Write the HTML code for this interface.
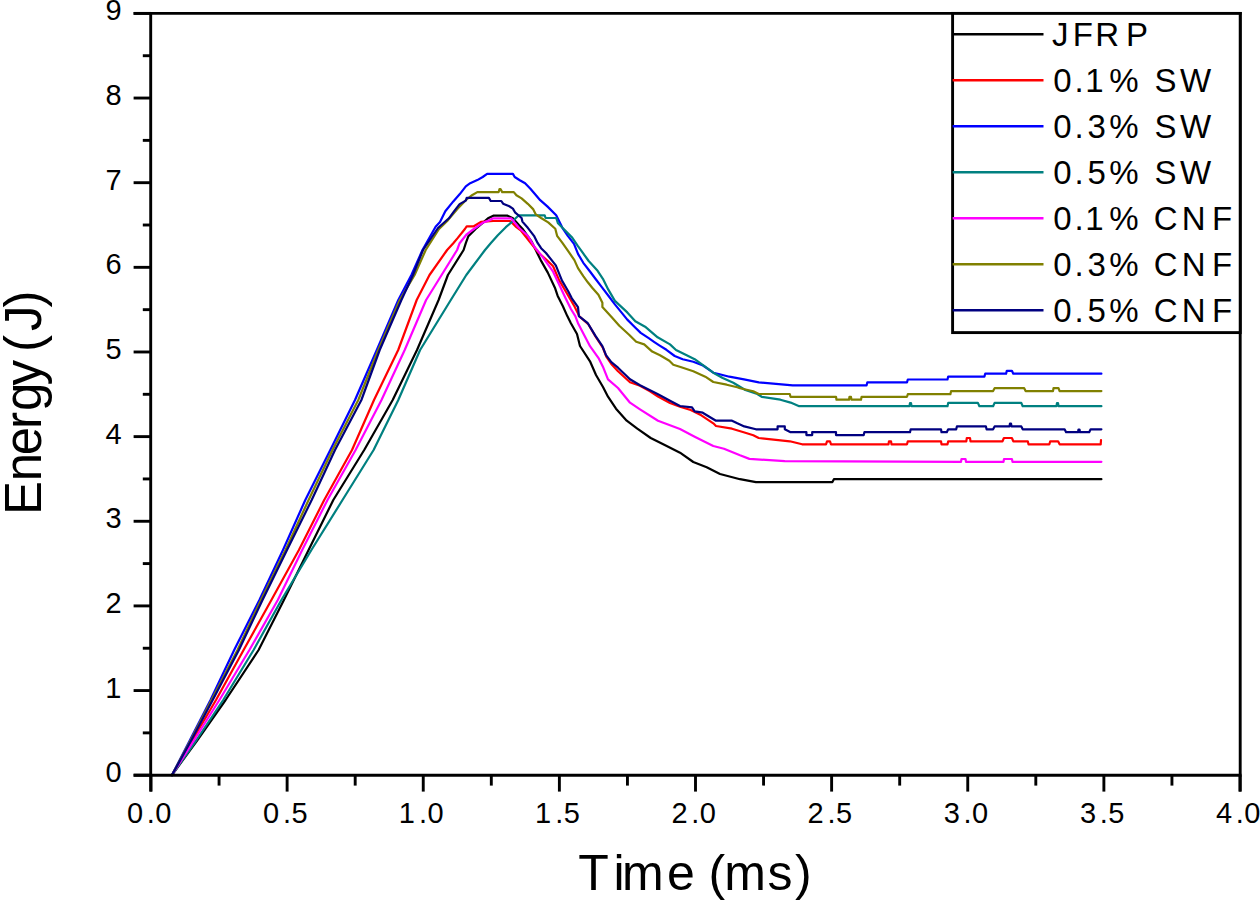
<!DOCTYPE html>
<html><head><meta charset="utf-8">
<style>
html,body{margin:0;padding:0;background:#fff;overflow:hidden;}
svg{display:block;}
text{font-family:"Liberation Sans",sans-serif;fill:#000;}
</style></head><body>
<svg width="1260" height="900" viewBox="0 0 1260 900">
<rect width="1260" height="900" fill="#fff"/>
<polyline points="172,775 197.5,740 225.6,700 258.6,650 283.9,600 308.6,550 333.3,500 364.2,450 392.7,400 417,350 438.6,300 447.9,275 463.6,250 465.8,243.2 468.4,236.1 475.6,229 488,218.3 493.3,215.7 507.6,215.7 512.9,218.3 518.9,225.1 522.4,228.7 531.3,241.1 534.9,248.2 540.7,260.1 547.8,272.6 554.9,287.7 557.6,295.7 562.9,306.3 567.3,316.1 570.9,323.2 577,334 580,346 590,361.3 596,375 603,387 608,396.7 616,408.7 626.7,420.7 637.3,428.7 650.7,438 666.7,446 680,452.7 693.3,462 706.7,467.3 720,474 740,479.2 755.9,482.1 832.4,482.1 833.9,479.2 1101.4,479.2" fill="none" stroke="#000000" stroke-width="2.2" stroke-linejoin="round" stroke-linecap="round"/>
<polyline points="172,775 192.5,740 216,700 243.6,650 271.4,600 298.9,550 324.2,500 352,450 374,400 398.2,350 416.7,300 429.5,275 447.1,250 453.3,243.2 457.8,237.9 464.9,229 466.7,226.3 473.8,226.3 480.9,221.9 493.3,221 510.2,221 516.4,227.2 520.7,230.4 530,242 538.9,253 547.8,261 553.1,266.3 559.3,280.6 562,285 574.4,306.3 579.5,316.5 588.5,324.5 595.8,337 603,348 606.5,357 611.3,364 618,371.3 630,382.3 640,385.7 650,391.3 658,396.5 670,403 680,406.7 690.7,410 701.3,415.3 713.3,423.3 716,426 732,428.7 745.3,432.7 753.3,435.3 758.7,438 789.8,441.3 802.1,444.3 826,444.3 827,441.3 830,441.3 831,444.3 888.5,444.3 889,441.3 891,441.3 891.5,444.3 907,444.3 907.8,441.3 941,441.3 941.5,444.3 947.5,444.3 948.2,441.3 966.3,441.3 966.8,438 970,438 970.5,441.3 1002.5,441.3 1003.9,438 1011.9,438 1013.3,441.3 1027.8,441.3 1028.5,444.3 1049.4,444.3 1050.2,441.3 1058.1,441.3 1059.6,444.3 1100.7,444.3 1101,440" fill="none" stroke="#FF0000" stroke-width="2.2" stroke-linejoin="round" stroke-linecap="round"/>
<polyline points="172,775 190,740 210.5,700 234.2,650 259.4,600 283,550 305.3,500 330.3,450 355,400 376.8,350 398.3,300 411.4,275 422.5,250 435.6,226.7 440,221.9 445.3,211.2 453.3,201.4 459.6,194.3 465.8,186.3 470.2,183.2 477.3,180.1 482.7,177 487.1,173.9 512.9,173.9 514.7,177 519.8,180.2 525.1,183.3 530.4,188.7 534.9,194 540.2,200.2 547.3,206.4 556.2,215.3 562.4,227.8 567.8,235.8 574,243.8 578,253.9 583.3,262.8 590,271.5 596,279.5 602,287.4 608.2,295.5 614.9,304.4 627.3,319.6 634.4,326.7 640.7,332.9 648.7,338.2 654,341.8 659.3,345.3 666.4,349.8 674.7,356 682.7,359.3 693.3,361.8 703,365.5 713.3,372.7 718.7,374 729.3,376.7 744,379.3 758.8,382.4 792.7,385.3 866.6,385.3 867.3,382.4 907,382.4 907.8,379.5 947.5,379.5 948.2,376.6 984.4,376.6 985.2,373.7 1006.1,373.7 1006.8,370.8 1011.9,370.8 1013.3,373.7 1101.4,373.7" fill="none" stroke="#0000FF" stroke-width="2.2" stroke-linejoin="round" stroke-linecap="round"/>
<polyline points="172,775 196.5,740 223.2,700 253.6,650 281.4,600 311.4,550 342.5,500 373.6,450 398.3,400 420.1,350 450.8,300 466.3,275 485,250 490.7,243.2 497.8,235.2 505.8,227.2 512,221.9 515.6,218.3 518.9,215.3 544.7,215.3 545.6,218 556.2,218 558,223.3 564.2,229.6 572.2,237.6 577.6,245.6 581.6,251.2 588.7,261 597.6,270.8 602.9,278.8 608.2,289.4 614.9,300.9 627.3,312.4 635.3,321.3 645.1,326.7 657.6,337.3 670,344.4 676,350 686.7,355.3 694.7,359.2 704,365.8 713.3,372.7 722.7,378 733.3,382.7 745.3,390 757.3,394 761.7,396.8 780.4,399.7 790.6,402.6 799.2,406.2 909.5,406.2 910,403 911,403 911.5,406.2 947.5,406.2 948.2,402.9 977.9,402.9 979.4,406.2 993.1,406.2 994.6,402.9 1021.3,402.9 1022.7,406.2 1056.5,406.2 1057,403 1058,403 1058.5,406.2 1101.4,406.2" fill="none" stroke="#008080" stroke-width="2.2" stroke-linejoin="round" stroke-linecap="round"/>
<polyline points="172,775 194.2,740 219.4,700 249.4,650 277.8,600 302.2,550 327.5,500 355.6,450 381.5,400 404.7,350 426.1,300 441.6,275 457.1,250 459.6,243.2 466.7,234.3 473.8,229 482.7,222.8 489.8,220.1 493.3,218.3 511.1,218.3 518.9,227.8 527.8,235.8 534.4,246.8 542.4,256.6 553.1,271.7 560.2,286.8 565.6,298.3 570.9,309 575.3,316.1 578,323.2 590,346.2 598.9,358.7 603.3,367.6 608,379.3 618,388 630,402.7 640,409.3 658,420.7 680,429 694.7,436.7 702.7,440.7 713.3,446 724,448.7 740,455.3 749.4,458.9 784.8,461.1 961,461.8 961.5,459 965.5,459 966,461.8 1003.5,461.8 1004,459 1011.9,459 1012.5,461.8 1101.4,461.8" fill="none" stroke="#FF00FF" stroke-width="2.2" stroke-linejoin="round" stroke-linecap="round"/>
<polyline points="172,775 190.7,740 211.5,700 237.5,650 261,600 285.5,550 308.6,500 332.5,450 358.3,400 378.3,350 399.8,300 414.6,275 425.7,250 439,229 448,220.1 457.8,208.6 466,200 472,195.2 477.3,192.1 498.7,192.1 499.5,189 500.5,189 502.2,192.1 513.8,192.1 516.4,195.2 521.6,198.4 527.8,203.8 533.1,209.1 535.8,214.4 541.1,218 548.2,222.4 555.3,228.7 557.1,235.8 562.4,242.9 568.2,251.2 574.4,260.1 578,268.1 583.3,276.1 587.8,282.3 592.2,287.7 598.4,294.8 602.4,302.8 602.4,307.1 612.2,317.8 619.3,325.8 629.1,334.7 636.2,341.8 644.2,344.4 652.2,351.6 660,355.3 669.3,360.7 673.3,364.7 681.3,367.3 693.3,371.3 705.3,376.7 713.3,382 726.7,384.7 737.3,387.3 740,388.2 753.3,391.3 758.8,394 789.8,394 790.5,396.8 836,396.8 836.5,399.7 849,399.7 849.5,396.8 851,396.8 851.4,399.7 861,399.7 861.6,396.8 907,396.8 907.8,394.2 950.4,394.2 951.1,391.1 993.1,391.1 994.6,388.2 1024.2,388.2 1025.6,391.1 1053,391.1 1053.5,388.2 1058.5,388.2 1059.6,391.1 1101.4,391.1" fill="none" stroke="#808000" stroke-width="2.2" stroke-linejoin="round" stroke-linecap="round"/>
<polyline points="172,775 191.4,740 212.7,700 238.9,650 262.5,600 287,550 311.7,500 335,450 361.4,400 379.7,350 401.4,300 413,275 423,250 438,228 448.9,218.3 454.2,211.2 459.6,204.1 465.8,200.6 466.7,197.9 488.9,197.9 490.7,201 501.3,201 503.1,203.7 509.3,206.3 512.9,208.6 515.3,212.7 521.6,218 522.4,221.6 527.8,227.8 534,235.8 537.6,242.9 541.1,248.2 546,253 555.8,265.4 562,280.6 568.2,291.2 571.8,298.3 578,307.2 578.9,316.1 587.8,323.2 595.3,335.6 602.4,346.2 606,355.1 611.3,362.2 618,367.7 630,379.3 640,385.3 658,394.3 670,400.7 680,406 692,407.3 694.7,411.3 702.7,412.7 709.3,416.7 716,420.7 732,420.7 737.3,423.3 744.3,426.4 755.9,429.3 777.6,429.3 777.6,426.4 784.8,426.4 784.8,429.3 790.6,432.2 806.4,432.2 806.4,435.1 812.2,435.1 812.2,432.2 836,432.2 836,435.1 863.7,435.1 864.4,432.2 910,432.2 910.7,429.3 941,429.3 941.5,432.2 946.8,432.2 948.2,429.3 956.2,429.3 956.9,426.4 985.9,426.4 986.6,429.3 993.1,429.3 994.6,426.4 1009.5,426.4 1010,423.5 1011,423.5 1011.5,426.4 1021.3,426.4 1022.7,429.3 1064.6,429.3 1066.1,432.2 1078,432.2 1078.5,429.5 1079.5,429.5 1080,432.2 1089.2,432.2 1090.6,429.3 1101.4,429.3" fill="none" stroke="#000080" stroke-width="2.2" stroke-linejoin="round" stroke-linecap="round"/>
<g stroke="#000" stroke-width="2.9" fill="none" stroke-linecap="butt">
<line x1="133.6" y1="13.4" x2="1241.5" y2="13.4"/>
<line x1="133.6" y1="775.2" x2="1241.5" y2="775.2"/>
<line x1="150.7" y1="11.950000000000001" x2="150.7" y2="791.6"/>
<line x1="1240.2" y1="11.950000000000001" x2="1240.2" y2="791.6"/>
<line x1="133.6" y1="775.20" x2="151" y2="775.20"/>
<line x1="133.6" y1="690.56" x2="151" y2="690.56"/>
<line x1="133.6" y1="605.91" x2="151" y2="605.91"/>
<line x1="133.6" y1="521.27" x2="151" y2="521.27"/>
<line x1="133.6" y1="436.62" x2="151" y2="436.62"/>
<line x1="133.6" y1="351.98" x2="151" y2="351.98"/>
<line x1="133.6" y1="267.33" x2="151" y2="267.33"/>
<line x1="133.6" y1="182.69" x2="151" y2="182.69"/>
<line x1="133.6" y1="98.04" x2="151" y2="98.04"/>
<line x1="133.6" y1="13.40" x2="151" y2="13.40"/>
<line x1="142.8" y1="732.88" x2="151" y2="732.88"/>
<line x1="142.8" y1="648.23" x2="151" y2="648.23"/>
<line x1="142.8" y1="563.59" x2="151" y2="563.59"/>
<line x1="142.8" y1="478.94" x2="151" y2="478.94"/>
<line x1="142.8" y1="394.30" x2="151" y2="394.30"/>
<line x1="142.8" y1="309.66" x2="151" y2="309.66"/>
<line x1="142.8" y1="225.01" x2="151" y2="225.01"/>
<line x1="142.8" y1="140.37" x2="151" y2="140.37"/>
<line x1="142.8" y1="55.72" x2="151" y2="55.72"/>
<line x1="151.00" y1="775.2" x2="151.00" y2="791.6"/>
<line x1="287.12" y1="775.2" x2="287.12" y2="791.6"/>
<line x1="423.25" y1="775.2" x2="423.25" y2="791.6"/>
<line x1="559.38" y1="775.2" x2="559.38" y2="791.6"/>
<line x1="695.50" y1="775.2" x2="695.50" y2="791.6"/>
<line x1="831.62" y1="775.2" x2="831.62" y2="791.6"/>
<line x1="967.75" y1="775.2" x2="967.75" y2="791.6"/>
<line x1="1103.88" y1="775.2" x2="1103.88" y2="791.6"/>
<line x1="1240.00" y1="775.2" x2="1240.00" y2="791.6"/>
<line x1="219.06" y1="775.2" x2="219.06" y2="785.6"/>
<line x1="355.19" y1="775.2" x2="355.19" y2="785.6"/>
<line x1="491.31" y1="775.2" x2="491.31" y2="785.6"/>
<line x1="627.44" y1="775.2" x2="627.44" y2="785.6"/>
<line x1="763.56" y1="775.2" x2="763.56" y2="785.6"/>
<line x1="899.69" y1="775.2" x2="899.69" y2="785.6"/>
<line x1="1035.81" y1="775.2" x2="1035.81" y2="785.6"/>
<line x1="1171.94" y1="775.2" x2="1171.94" y2="785.6"/>
</g>
<rect x="952.6" y="13.4" width="287.6" height="319.2" fill="#fff" stroke="#000" stroke-width="2.9"/>
<line x1="952.6" y1="34.3" x2="1043.5" y2="34.3" stroke="#000000" stroke-width="2.6"/>
<text x="1051.91" y="45.50" font-size="33">J</text>
<text x="1072.63" y="45.50" font-size="33">F</text>
<text x="1095.31" y="45.50" font-size="33">R</text>
<text x="1126.02" y="45.50" font-size="33">P</text>
<line x1="952.6" y1="80.3" x2="1043.5" y2="80.3" stroke="#FF0000" stroke-width="2.6"/>
<text x="1053.13" y="91.62" font-size="33">0</text>
<text x="1074.61" y="91.62" font-size="33">.</text>
<text x="1085.18" y="91.62" font-size="33">1</text>
<text x="1109.32" y="91.62" font-size="33">%</text>
<text x="1154.49" y="91.62" font-size="33">S</text>
<text x="1179.91" y="91.62" font-size="33">W</text>
<line x1="952.6" y1="126.3" x2="1043.5" y2="126.3" stroke="#0000FF" stroke-width="2.6"/>
<text x="1053.13" y="137.75" font-size="33">0</text>
<text x="1074.61" y="137.75" font-size="33">.</text>
<text x="1087.62" y="137.75" font-size="33">3</text>
<text x="1109.32" y="137.75" font-size="33">%</text>
<text x="1154.49" y="137.75" font-size="33">S</text>
<text x="1179.91" y="137.75" font-size="33">W</text>
<line x1="952.6" y1="172.3" x2="1043.5" y2="172.3" stroke="#008080" stroke-width="2.6"/>
<text x="1053.13" y="183.88" font-size="33">0</text>
<text x="1074.61" y="183.88" font-size="33">.</text>
<text x="1087.56" y="183.88" font-size="33">5</text>
<text x="1109.32" y="183.88" font-size="33">%</text>
<text x="1154.49" y="183.88" font-size="33">S</text>
<text x="1179.91" y="183.88" font-size="33">W</text>
<line x1="952.6" y1="218.3" x2="1043.5" y2="218.3" stroke="#FF00FF" stroke-width="2.6"/>
<text x="1053.13" y="230.00" font-size="33">0</text>
<text x="1074.61" y="230.00" font-size="33">.</text>
<text x="1085.18" y="230.00" font-size="33">1</text>
<text x="1109.32" y="230.00" font-size="33">%</text>
<text x="1153.67" y="230.00" font-size="33">C</text>
<text x="1181.77" y="230.00" font-size="33">N</text>
<text x="1212.03" y="230.00" font-size="33">F</text>
<line x1="952.6" y1="264.3" x2="1043.5" y2="264.3" stroke="#808000" stroke-width="2.6"/>
<text x="1053.13" y="276.12" font-size="33">0</text>
<text x="1074.61" y="276.12" font-size="33">.</text>
<text x="1087.62" y="276.12" font-size="33">3</text>
<text x="1109.32" y="276.12" font-size="33">%</text>
<text x="1153.67" y="276.12" font-size="33">C</text>
<text x="1181.77" y="276.12" font-size="33">N</text>
<text x="1212.03" y="276.12" font-size="33">F</text>
<line x1="952.6" y1="310.3" x2="1043.5" y2="310.3" stroke="#000080" stroke-width="2.6"/>
<text x="1053.13" y="322.25" font-size="33">0</text>
<text x="1074.61" y="322.25" font-size="33">.</text>
<text x="1087.56" y="322.25" font-size="33">5</text>
<text x="1109.32" y="322.25" font-size="33">%</text>
<text x="1153.67" y="322.25" font-size="33">C</text>
<text x="1181.77" y="322.25" font-size="33">N</text>
<text x="1212.03" y="322.25" font-size="33">F</text>
<text x="105.54" y="782.20" font-size="29">0</text>
<text x="105.15" y="697.56" font-size="29">1</text>
<text x="105.54" y="612.91" font-size="29">2</text>
<text x="105.62" y="528.27" font-size="29">3</text>
<text x="105.62" y="443.62" font-size="29">4</text>
<text x="105.57" y="358.98" font-size="29">5</text>
<text x="105.44" y="274.33" font-size="29">6</text>
<text x="105.52" y="189.69" font-size="29">7</text>
<text x="105.54" y="105.04" font-size="29">8</text>
<text x="105.54" y="20.40" font-size="29">9</text>
<text x="126.94" y="823.30" font-size="29">0</text>
<text x="146.77" y="823.30" font-size="29">.</text>
<text x="155.34" y="823.30" font-size="29">0</text>
<text x="263.06" y="823.30" font-size="29">0</text>
<text x="282.89" y="823.30" font-size="29">.</text>
<text x="291.49" y="823.30" font-size="29">5</text>
<text x="398.80" y="823.30" font-size="29">1</text>
<text x="419.02" y="823.30" font-size="29">.</text>
<text x="427.59" y="823.30" font-size="29">0</text>
<text x="534.92" y="823.30" font-size="29">1</text>
<text x="555.14" y="823.30" font-size="29">.</text>
<text x="563.74" y="823.30" font-size="29">5</text>
<text x="671.44" y="823.30" font-size="29">2</text>
<text x="691.27" y="823.30" font-size="29">.</text>
<text x="699.84" y="823.30" font-size="29">0</text>
<text x="807.56" y="823.30" font-size="29">2</text>
<text x="827.39" y="823.30" font-size="29">.</text>
<text x="835.99" y="823.30" font-size="29">5</text>
<text x="943.77" y="823.30" font-size="29">3</text>
<text x="963.52" y="823.30" font-size="29">.</text>
<text x="972.09" y="823.30" font-size="29">0</text>
<text x="1079.90" y="823.30" font-size="29">3</text>
<text x="1099.64" y="823.30" font-size="29">.</text>
<text x="1108.24" y="823.30" font-size="29">5</text>
<text x="1216.03" y="823.30" font-size="29">4</text>
<text x="1235.77" y="823.30" font-size="29">.</text>
<text x="1244.34" y="823.30" font-size="29">0</text>
<text x="578.25" y="890.40" font-size="50">T</text>
<text x="613.45" y="890.40" font-size="50">i</text>
<text x="621.92" y="890.40" font-size="50">m</text>
<text x="667.05" y="890.40" font-size="50">e</text>
<text x="708.62" y="890.40" font-size="50">(</text>
<text x="724.32" y="890.40" font-size="50">m</text>
<text x="767.45" y="890.40" font-size="50">s</text>
<text x="795.03" y="890.40" font-size="50">)</text>
<text transform="translate(40.5,497) rotate(-90)" x="-18.00" y="0" font-size="51">E</text>
<text transform="translate(40.5,467) rotate(-90)" x="-14.20" y="0" font-size="51">n</text>
<text transform="translate(40.5,441) rotate(-90)" x="-14.13" y="0" font-size="51">e</text>
<text transform="translate(40.5,419.2) rotate(-90)" x="-9.74" y="0" font-size="51">r</text>
<text transform="translate(40.5,397.3) rotate(-90)" x="-13.62" y="0" font-size="51">g</text>
<text transform="translate(40.5,372.7) rotate(-90)" x="-12.78" y="0" font-size="51">y</text>
<text transform="translate(40.5,342) rotate(-90)" x="-9.92" y="0" font-size="51">(</text>
<text transform="translate(40.5,319.7) rotate(-90)" x="-11.27" y="0" font-size="51">J</text>
<text transform="translate(40.5,300.4) rotate(-90)" x="-7.06" y="0" font-size="51">)</text>
</svg>
</body></html>
